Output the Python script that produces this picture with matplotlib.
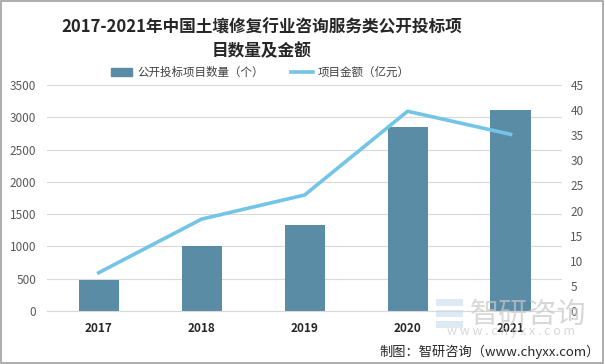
import numpy as np
import matplotlib.pyplot as plt
from matplotlib.patches import Rectangle
from matplotlib.lines import Line2D

plt.rcParams['font.family'] = ['Noto Sans CJK SC', 'DejaVu Sans']

years = ['2017', '2018', '2019', '2020', '2021']
counts = [480, 1005, 1330, 2850, 3110]        # 公开投标项目数量（个）
amounts = [7.6, 18.3, 23.1, 39.8, 35.2]       # 项目金额（亿元）

bar_color = '#5b8ca6'
line_color = '#72c5e6'
tick_color = '#595959'

fig = plt.figure(figsize=(6.05, 3.64), dpi=100)
ax = fig.add_axes([0.078, 0.146, 0.851, 0.62])
ax2 = ax.twinx()

x = np.arange(len(years))
ax.bar(x, counts, width=0.39, color=bar_color, zorder=2)
ax2.plot(x, amounts, color=line_color, lw=2.6, zorder=3)

ax.set_xlim(-0.5, 4.5)
ax.set_ylim(0, 3500)
ax.set_yticks(np.arange(0, 3501, 500))
ax2.set_ylim(0, 45)
ax2.set_yticks(np.arange(0, 46, 5))
ax.set_xticks(x)
ax.set_xticklabels(years, fontweight='bold', fontsize=9, color='#262626')

ax.grid(axis='y', color='#d9d9d9', lw=0.8, zorder=0)
for a in (ax, ax2):
    for s in a.spines.values():
        s.set_visible(False)
    a.tick_params(length=0, labelsize=8.5, labelcolor=tick_color)
ax.spines['bottom'].set_visible(True)
ax.spines['bottom'].set_color('#d9d9d9')
ax.tick_params(axis='y', pad=8)
ax.tick_params(axis='x', pad=8, labelcolor='#262626')
ax2.tick_params(axis='y', pad=6)

fig.text(0.433, 0.948, '2017-2021年中国土壤修复行业咨询服务类公开投标项\n目数量及金额',
         ha='center', va='top', fontsize=12, fontweight='bold', color='#262626',
         linespacing=1.35)

handles = [Rectangle((0, 0), 1, 1, color=bar_color),
           Line2D([], [], color=line_color, lw=2.6)]
fig.legend(handles, ['公开投标项目数量（个）', '项目金额（亿元）'],
           loc='center', bbox_to_anchor=(0.43, 0.80), ncol=2, frameon=False,
           fontsize=8.3, handlelength=1.9, handleheight=0.7, columnspacing=2.4,
           handletextpad=0.4, labelcolor='#404040')

# watermark (logo + text)
for dy in (0.10, 0.13, 0.16):
    fig.patches.append(Rectangle((0.72, dy), 0.045, 0.018, transform=fig.transFigure,
                                 facecolor='#c9dcea', edgecolor='none', alpha=0.6, zorder=5))
fig.text(0.873, 0.135, '智研咨询', ha='center', va='center', fontsize=21,
         color='#c8c8c8', alpha=0.7, zorder=5)
fig.text(0.845, 0.088, 'w w w . c h y x x . c o m', ha='center', va='center',
         fontsize=9, color='#c8c8c8', alpha=0.7, zorder=5)
fig.text(0.992, 0.033, '制图：智研咨询（www.chyxx.com）', ha='right', va='center',
         fontsize=9.5, color='#262626')

fig.patches.append(Rectangle((0.002, 0.003), 0.995, 0.994, transform=fig.transFigure,
                             fill=False, edgecolor='#a0a0a0', lw=1.2))

fig.savefig('out.png', dpi=100)
